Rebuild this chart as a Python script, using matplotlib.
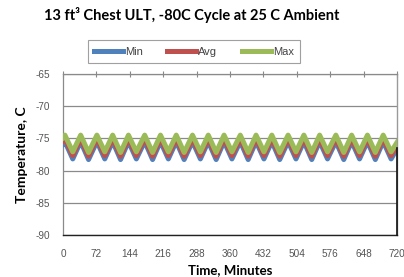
import matplotlib
matplotlib.use("Agg")
import matplotlib.pyplot as plt

# --- data ---
time_min = [0, 4, 21, 38, 55, 73, 90, 107, 124, 141, 158, 176, 193, 210, 227,
            244, 261, 279, 296, 313, 330, 347, 364, 382, 399, 416, 433, 450,
            467, 485, 502, 519, 536, 553, 570, 588, 605, 622, 639, 656, 673,
            690, 707, 720]
temp_max = [-74.9, -74.5, -77.1, -74.5, -77.2, -74.5, -77.1, -74.5, -77.2,
            -74.5, -77.1, -74.5, -77.2, -74.5, -77.1, -74.5, -77.2, -74.5,
            -77.1, -74.5, -77.2, -74.5, -77.1, -74.5, -77.2, -74.5, -77.1,
            -74.5, -77.2, -74.5, -77.1, -74.5, -77.2, -74.5, -77.1, -74.5,
            -77.2, -74.5, -77.1, -74.5, -77.2, -74.5, -77.1, -75.6]
temp_avg = [-75.4, -75.0, -77.7, -75.0, -77.8, -75.0, -77.7, -75.0, -77.8,
            -75.0, -77.7, -75.0, -77.8, -75.0, -77.7, -75.0, -77.8, -75.0,
            -77.7, -75.0, -77.8, -75.0, -77.7, -75.0, -77.8, -75.0, -77.7,
            -75.0, -77.8, -75.0, -77.7, -75.0, -77.8, -75.0, -77.7, -75.0,
            -77.8, -75.0, -77.7, -75.0, -77.8, -75.0, -77.7, -76.1]
temp_min = [-75.9, -75.5, -78.2, -75.5, -78.3, -75.5, -78.2, -75.5, -78.3,
            -75.5, -78.2, -75.5, -78.3, -75.5, -78.2, -75.5, -78.3, -75.5,
            -78.2, -75.5, -78.3, -75.5, -78.2, -75.5, -78.3, -75.5, -78.2,
            -75.5, -78.3, -75.5, -78.2, -75.5, -78.3, -75.5, -78.2, -75.5,
            -78.3, -75.5, -78.2, -75.5, -78.3, -75.5, -78.2, -76.6]
series_names = ["Min", "Avg", "Max"]
x_ticks = [0, 72, 144, 216, 288, 360, 432, 504, 576, 648, 720]
y_ticks = [-90, -85, -80, -75, -70, -65]

colors = ["#4F81BD", "#C0504D", "#9BBB59"]

fig = plt.figure(figsize=(4.04, 2.77), dpi=100)
ax = fig.add_axes([0.156, 0.152, 0.827, 0.581])

for vals, name, c in zip([temp_min, temp_avg, temp_max], series_names, colors):
    ax.plot(time_min, vals, color=c, lw=3.6, label=name, solid_joinstyle="round",
            zorder=3)

ax.set_xlim(0, 720)
ax.set_ylim(-90, -65)
ax.set_xticks(x_ticks)
ax.set_yticks(y_ticks)
ax.set_xticklabels([str(v) for v in x_ticks])
ax.set_yticklabels([str(v) for v in y_ticks])
ax.tick_params(axis="x", bottom=False, top=True, labelbottom=True,
               direction="inout", length=4, color="#888888", pad=8)
ax.tick_params(axis="y", left=False, right=False, pad=6)
for lab in ax.get_xticklabels() + ax.get_yticklabels():
    lab.set_family("Liberation Sans")
    lab.set_fontsize(7.2)
    lab.set_color("#555555")

ax.grid(axis="y", color="#8a8a8a", lw=0.9)
ax.set_axisbelow(True)
for s in ["left", "top"]:
    ax.spines[s].set_color("#8a8a8a")
    ax.spines[s].set_linewidth(0.9)
ax.spines["bottom"].set_color("#222222")
ax.spines["bottom"].set_linewidth(1.0)
ax.spines["right"].set_color("#9a9a9a")
ax.spines["right"].set_linewidth(1.0)
ax.plot([720, 720], [-90, -76.5], color="#111111", lw=1.2, clip_on=False, zorder=4)

ax.set_xlabel("Time, Minutes", fontsize=9.5, fontweight="bold", family="Lato",
              labelpad=4)
ax.set_ylabel("Temperature, C", fontsize=10, fontweight="bold", family="Lato",
              labelpad=5)

fig.text(0.475, 0.945, "13 ft³ Chest ULT, -80C Cycle at 25 C Ambient",
         ha="center", va="center", fontsize=10.5, fontweight="bold",
         family="Lato")

leg = fig.legend(loc="center", bbox_to_anchor=(0.48, 0.814), ncol=3,
                 prop={"family": "Liberation Sans", "size": 8},
                 frameon=True, fancybox=False, handlelength=2.6,
                 handletextpad=0.2, columnspacing=2.2, borderpad=0.55,
                 borderaxespad=0)
leg.get_frame().set_edgecolor("#888888")
leg.get_frame().set_linewidth(0.8)
for t in leg.get_texts():
    t.set_color("#444444")

fig.savefig("out.png", dpi=100)
